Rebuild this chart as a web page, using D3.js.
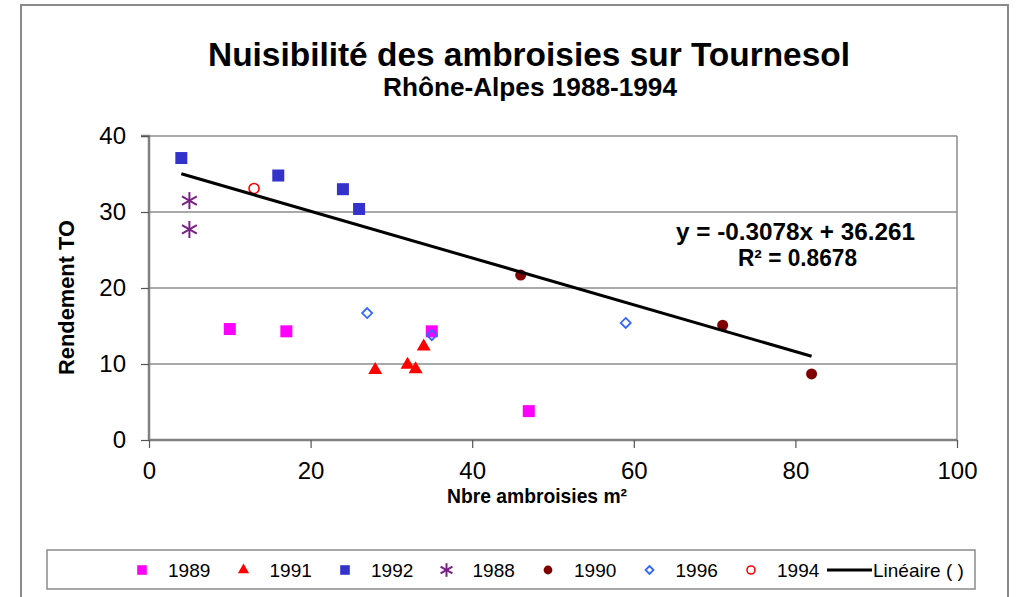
<!DOCTYPE html>
<html>
<head>
<meta charset="utf-8">
<script src="https://cdn.jsdelivr.net/npm/d3@7"></script>
<style>
  body { margin: 0; background: #fff; }
  text { font-family: "Liberation Sans", Arial, sans-serif; fill: #000; }
</style>
</head>
<body>
<div id="chart"></div>
<script>
// ---- data ----
const x1989 = [10, 17, 35, 47];
const y1989 = [14.6, 14.3, 14.3, 3.8];
const x1991 = [28, 32, 33, 34];
const y1991 = [9.2, 9.9, 9.3, 12.3];
const x1992 = [4, 16, 24, 26];
const y1992 = [37.1, 34.8, 33.0, 30.4];
const x1988 = [5, 5];
const y1988 = [31.5, 27.7];
const x1990 = [46, 71, 82];
const y1990 = [21.7, 15.1, 8.7];
const x1996 = [27, 35, 59];
const y1996 = [16.7, 13.8, 15.4];
const x1994 = [13];
const y1994 = [33.1];

const xTicks = [0, 20, 40, 60, 80, 100];
const yTicks = [0, 10, 20, 30, 40];

const trendSlope = -0.3078;
const trendIntercept = 36.261;
const trendR2 = 0.8678;

const series = [
  { name: "1989", xs: x1989, ys: y1989, symbol: "square" },
  { name: "1991", xs: x1991, ys: y1991, symbol: "triangle" },
  { name: "1992", xs: x1992, ys: y1992, symbol: "square2" },
  { name: "1988", xs: x1988, ys: y1988, symbol: "asterisk" },
  { name: "1990", xs: x1990, ys: y1990, symbol: "dot" },
  { name: "1996", xs: x1996, ys: y1996, symbol: "diamond" },
  { name: "1994", xs: x1994, ys: y1994, symbol: "ring" }
];

const W = 1018, H = 597;
const margin = { left: 149, right: W - 957, top: 136, bottom: H - 440 };

const svg = d3.select("#chart").append("svg")
  .attr("width", W)
  .attr("height", H);

// outer chart frame
svg.append("rect")
  .attr("x", 21).attr("y", 5)
  .attr("width", 987).attr("height", 620)
  .attr("fill", "#fff")
  .attr("stroke", "#8a8a8a")
  .attr("stroke-width", 2);

const x = d3.scaleLinear().domain([0, 100]).range([margin.left, W - margin.right]);
const y = d3.scaleLinear().domain([0, 40]).range([H - margin.bottom, margin.top]);

// gridlines + plot frame
const grid = svg.append("g");
grid.selectAll("line")
  .data(yTicks.filter(t => t > 0))
  .join("line")
  .attr("x1", x(0)).attr("x2", x(100))
  .attr("y1", d => y(d)).attr("y2", d => y(d))
  .attr("stroke", "#8c8c8c")
  .attr("stroke-width", 1.5);
grid.append("line")
  .attr("x1", x(100)).attr("x2", x(100))
  .attr("y1", y(40)).attr("y2", y(0))
  .attr("stroke", "#8c8c8c")
  .attr("stroke-width", 1.5);

// axes
const xAxis = svg.append("g")
  .attr("transform", `translate(0,${y(0)})`)
  .call(d3.axisBottom(x).tickValues(xTicks).tickSize(8).tickPadding(14));
const yAxis = svg.append("g")
  .attr("transform", `translate(${x(0)},0)`)
  .call(d3.axisLeft(y).tickValues(yTicks).tickSize(8).tickPadding(15));

[xAxis, yAxis].forEach(a => {
  a.select(".domain").attr("stroke", "#808080").attr("stroke-width", 2.5);
  a.selectAll(".tick line").attr("stroke", "#555").attr("stroke-width", 1.2);
  a.selectAll(".tick text")
    .attr("font-size", 24)
    .attr("font-family", "Liberation Sans, Arial, sans-serif")
    .attr("fill", "#111");
});
yAxis.select(".domain").attr("d", `M-8,${y(40)}H0V${y(0)}`);
xAxis.select(".domain").attr("d", `M0,0H${x(100) - x(0)}`).attr("transform", `translate(${x(0)},0)`);

// symbols
function drawSymbol(g, kind, size) {
  const s = size || 1;
  switch (kind) {
    case "square":
      g.append("rect").attr("x", -6 * s).attr("y", -6 * s).attr("width", 12 * s).attr("height", 12 * s)
        .attr("fill", "#ff00ff");
      break;
    case "square2":
      g.append("rect").attr("x", -6 * s).attr("y", -6 * s).attr("width", 12 * s).attr("height", 12 * s)
        .attr("fill", "#3333cc");
      break;
    case "triangle":
      g.append("path").attr("d", d3.symbol(d3.symbolTriangle, 85 * s * s)())
        .attr("fill", "#ff0000");
      break;
    case "asterisk": {
      const r = 8.5 * s;
      const p = [
        [0, -r, 0, r],
        [-r * 0.87, -r * 0.5, r * 0.87, r * 0.5],
        [-r * 0.87, r * 0.5, r * 0.87, -r * 0.5]
      ];
      p.forEach(l => g.append("line")
        .attr("x1", l[0]).attr("y1", l[1]).attr("x2", l[2]).attr("y2", l[3])
        .attr("stroke", "#7a1f86").attr("stroke-width", 2));
      break;
    }
    case "dot":
      g.append("circle").attr("r", 5.5 * s).attr("fill", "#800000");
      break;
    case "diamond":
      g.append("path").attr("d", `M0,${-5 * s}L${5 * s},0L0,${5 * s}L${-5 * s},0Z`)
        .attr("fill", "none").attr("stroke", "#3366ff").attr("stroke-width", 1.8);
      break;
    case "ring":
      g.append("circle").attr("r", 5 * s)
        .attr("fill", "none").attr("stroke", "#ff0000").attr("stroke-width", 1.6);
      break;
  }
}

// points (drawn in series order)
const pts = svg.append("g");
series.forEach(sr => {
  sr.xs.forEach((xv, i) => {
    const g = pts.append("g").attr("transform", `translate(${x(xv)},${y(sr.ys[i])})`);
    drawSymbol(g, sr.symbol);
  });
});

// trendline over the data range
const allX = series.flatMap(s => s.xs);
const xMin = d3.min(allX), xMax = d3.max(allX);
svg.append("line")
  .attr("x1", x(xMin)).attr("y1", y(trendIntercept + trendSlope * xMin))
  .attr("x2", x(xMax)).attr("y2", y(trendIntercept + trendSlope * xMax))
  .attr("stroke", "#000")
  .attr("stroke-width", 3);

// equation
svg.append("text")
  .attr("x", 676).attr("y", 240)
  .attr("font-size", 23).attr("font-weight", "bold")
  .attr("textLength", 239).attr("lengthAdjust", "spacingAndGlyphs")
  .text(`y = ${trendSlope}x + ${trendIntercept}`);
svg.append("text")
  .attr("x", 738).attr("y", 266)
  .attr("font-size", 23).attr("font-weight", "bold")
  .attr("textLength", 119).attr("lengthAdjust", "spacingAndGlyphs")
  .text(`R² = ${trendR2}`);

// titles
svg.append("text")
  .attr("x", 208).attr("y", 66)
  .attr("font-size", 33).attr("font-weight", "bold")
  .attr("textLength", 642).attr("lengthAdjust", "spacingAndGlyphs")
  .text("Nuisibilité des ambroisies sur Tournesol");
svg.append("text")
  .attr("x", 383).attr("y", 96)
  .attr("font-size", 25).attr("font-weight", "bold")
  .attr("textLength", 294).attr("lengthAdjust", "spacingAndGlyphs")
  .text("Rhône-Alpes 1988-1994");

svg.append("text")
  .attr("transform", `translate(74,375) rotate(-90)`)
  .attr("font-size", 22).attr("font-weight", "bold")
  .attr("textLength", 155).attr("lengthAdjust", "spacingAndGlyphs")
  .text("Rendement TO");
svg.append("text")
  .attr("x", 447).attr("y", 503)
  .attr("font-size", 21).attr("font-weight", "bold")
  .attr("textLength", 180).attr("lengthAdjust", "spacingAndGlyphs")
  .text("Nbre ambroisies m²");

// legend
const legend = svg.append("g");
legend.append("rect")
  .attr("x", 47).attr("y", 550).attr("width", 928).attr("height", 39)
  .attr("fill", "#fff").attr("stroke", "#8a8a8a").attr("stroke-width", 1.5);

const legendX = d3.scaleLinear().domain([0, 1]).range([142, 243.5]);
series.forEach((sr, i) => {
  const cx = legendX(i);
  const g = legend.append("g").attr("transform", `translate(${cx},570)`);
  drawSymbol(g, sr.symbol, 0.8);
  legend.append("text")
    .attr("x", cx + 26).attr("y", 577)
    .attr("font-size", 19).attr("fill", "#222")
    .text(sr.name);
});
legend.append("line")
  .attr("x1", 827).attr("x2", 872).attr("y1", 570).attr("y2", 570)
  .attr("stroke", "#000").attr("stroke-width", 3);
legend.append("text")
  .attr("x", 873).attr("y", 577)
  .attr("font-size", 19).attr("fill", "#222")
  .text("Linéaire ( )");
</script>
</body>
</html>
